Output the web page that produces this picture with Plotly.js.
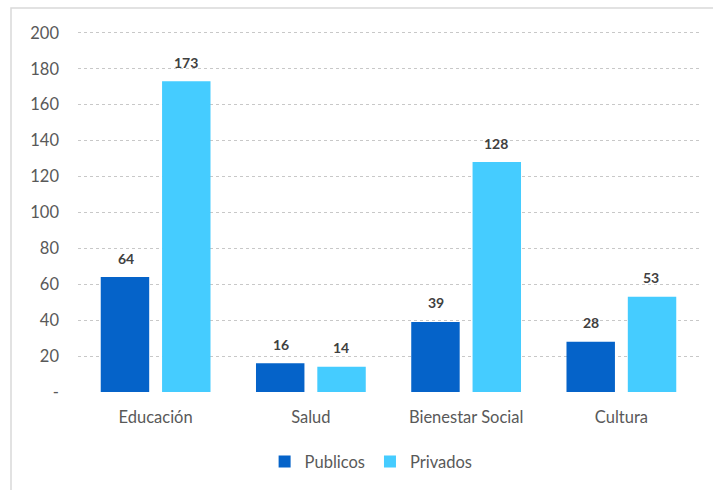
<!DOCTYPE html>
<html>
<head>
<meta charset="utf-8">
<script src="https://cdn.plot.ly/plotly-3.0.1.min.js"></script>
<style>
html,body{margin:0;padding:0;background:#fff;}
#chart{width:713px;height:490px;}
</style>
</head>
<body>
<div id="chart"></div>
<script>
const categories = ["Educación", "Salud", "Bienestar Social", "Cultura"];
const publicos = [64, 16, 39, 28];
const privados = [173, 14, 128, 53];
const seriesNames = ["Publicos", "Privados"];
const yTickVals = [0, 20, 40, 60, 80, 100, 120, 140, 160, 180, 200];
const yTickText = ["-", "20", "40", "60", "80", "100", "120", "140", "160", "180", "200"];

const FONT = "Lato, 'Open Sans', sans-serif";
const labelFont = {family: FONT, size: 14, color: "#404040", weight: "bold"};
const BAR_OFFSET = 30; // px from category center to each bar's center

const traces = [
  {type: "bar", name: seriesNames[0], x: categories, y: publicos,
   marker: {color: "#0563C9"}},
  {type: "bar", name: seriesNames[1], x: categories, y: privados,
   marker: {color: "#45CCFF"}}
];

const annotations = [];
[publicos, privados].forEach((vals, si) => {
  vals.forEach((v, i) => {
    annotations.push({x: categories[i], y: v, xref: "x", yref: "y",
      text: String(v), showarrow: false, font: labelFont,
      xshift: si === 0 ? -BAR_OFFSET : BAR_OFFSET, yshift: 19,
      xanchor: "center", yanchor: "middle"});
  });
});

const layout = {
  width: 713, height: 490,
  margin: {l: 78, r: 14, t: 31, b: 97},
  paper_bgcolor: "#fff", plot_bgcolor: "#fff",
  font: {family: FONT, size: 16, color: "#595959"},
  barmode: "group", bargap: 0.21, bargroupgap: 0.21,
  showlegend: true,
  legend: {orientation: "h", x: 0.472, xanchor: "center", y: -0.19, yanchor: "middle",
           font: {family: FONT, size: 16.5, color: "#595959"}, itemwidth: 30, traceorder: "normal"},
  xaxis: {type: "category", showgrid: false, zeroline: false, showline: false,
          ticks: "", ticklabelstandoff: 13,
          tickfont: {family: FONT, size: 16.5, color: "#595959"}},
  yaxis: {range: [0, 201], tickvals: yTickVals, ticktext: yTickText,
          showgrid: true, gridcolor: "#c8c8c8", griddash: "dot", gridwidth: 1,
          zeroline: false, showline: false, ticks: "", ticklabelstandoff: 18,
          tickfont: {family: FONT, size: 16.5, color: "#595959"}},
  annotations: annotations,
  shapes: [{type: "rect", xref: "paper", yref: "paper",
            x0: (11 - 78) / 621, x1: (716 - 78) / 621, y0: (393 - 493) / 362, y1: (393 - 8) / 362,
            line: {color: "#d9d9d9", width: 1.5}, fillcolor: "rgba(0,0,0,0)", layer: "below"}]
};

Plotly.newPlot("chart", traces, layout, {displayModeBar: false, staticPlot: true});
</script>
</body>
</html>
